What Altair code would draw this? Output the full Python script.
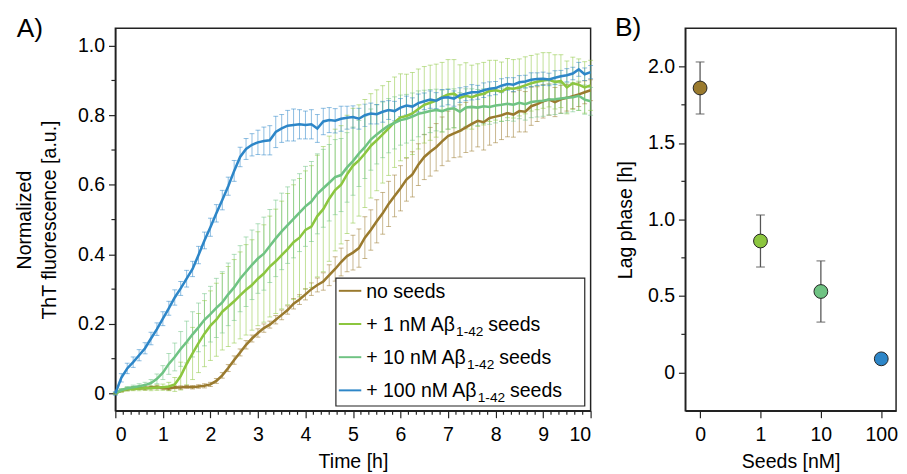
import altair as alt
import pandas as pd

# ---------------- Panel A data ----------------
TIME_H = [round(i * 0.125, 3) for i in range(81)]
SERIES_KEYS = ["s0", "s1", "s2", "s3"]
COLORS = ["#9a7a2e", "#8cc63f", "#6fc383", "#2d86c8"]
LEG_MAIN = ["no seeds", "+ 1 nM Aβ", "+ 10 nM Aβ", "+ 100 nM Aβ"]
LEG_SUB = ["", "1-42", "1-42", "1-42"]
LEG_TAIL = ["", "seeds", "seeds", "seeds"]

NO_SEEDS = [0.000, 0.008, 0.012, 0.015, 0.016, 0.015, 0.017, 0.018, 0.016,
            0.014, 0.018, 0.017, 0.019, 0.018, 0.020, 0.022, 0.026,
            0.036, 0.052, 0.073, 0.096, 0.118, 0.140, 0.158, 0.174,
            0.188, 0.198, 0.212, 0.226, 0.240, 0.258, 0.270, 0.285,
            0.300, 0.312, 0.322, 0.340, 0.358, 0.378, 0.395, 0.405,
            0.418, 0.448, 0.470, 0.495, 0.518, 0.545, 0.568, 0.590,
            0.615, 0.630, 0.658, 0.680, 0.695, 0.708, 0.725, 0.740,
            0.748, 0.755, 0.765, 0.775, 0.784, 0.780, 0.792, 0.796,
            0.800, 0.806, 0.802, 0.812, 0.810, 0.826, 0.832, 0.840,
            0.845, 0.838, 0.846, 0.850, 0.855, 0.860, 0.866, 0.872]
NO_SEEDS_ERR = [0.002, 0.004, 0.004, 0.005, 0.004, 0.005, 0.004, 0.005, 0.004,
                0.005, 0.004, 0.005, 0.004, 0.005, 0.005, 0.006, 0.006,
                0.007, 0.008, 0.010, 0.012, 0.010, 0.012, 0.010, 0.012,
                0.012, 0.010, 0.012, 0.014, 0.012, 0.015, 0.014, 0.016,
                0.018, 0.020, 0.025, 0.030, 0.035, 0.040, 0.045, 0.050,
                0.055, 0.060, 0.058, 0.062, 0.060, 0.065, 0.060, 0.065,
                0.062, 0.065, 0.060, 0.065, 0.070, 0.068, 0.070, 0.072,
                0.070, 0.075, 0.072, 0.078, 0.075, 0.080, 0.078, 0.075,
                0.070, 0.068, 0.065, 0.060, 0.058, 0.055, 0.050, 0.048,
                0.045, 0.042, 0.040, 0.038, 0.036, 0.035, 0.033, 0.030]

SEEDS_1NM = [0.000, 0.008, 0.012, 0.013, 0.014, 0.015, 0.015, 0.017, 0.018,
             0.020, 0.026, 0.050, 0.085, 0.115, 0.145, 0.172, 0.195,
             0.212, 0.235, 0.250, 0.265, 0.282, 0.298, 0.312, 0.330,
             0.345, 0.365, 0.380, 0.398, 0.415, 0.435, 0.448, 0.470,
             0.480, 0.510, 0.530, 0.560, 0.585, 0.600, 0.630, 0.655,
             0.670, 0.690, 0.712, 0.728, 0.745, 0.762, 0.780, 0.794,
             0.798, 0.805, 0.818, 0.830, 0.836, 0.842, 0.852, 0.860,
             0.862, 0.850, 0.856, 0.852, 0.858, 0.862, 0.870, 0.872,
             0.868, 0.878, 0.876, 0.880, 0.886, 0.892, 0.896, 0.900,
             0.902, 0.896, 0.898, 0.880, 0.892, 0.888, 0.880, 0.886]
SEEDS_1NM_ERR = [0.002, 0.004, 0.005, 0.005, 0.006, 0.006, 0.007, 0.008, 0.009,
                 0.012, 0.020, 0.040, 0.060, 0.075, 0.085, 0.095, 0.100,
                 0.105, 0.110, 0.115, 0.120, 0.125, 0.130, 0.130, 0.135,
                 0.140, 0.145, 0.150, 0.155, 0.160, 0.165, 0.170, 0.170,
                 0.175, 0.175, 0.180, 0.180, 0.175, 0.170, 0.170, 0.165,
                 0.160, 0.155, 0.150, 0.145, 0.140, 0.135, 0.130, 0.125,
                 0.120, 0.118, 0.115, 0.110, 0.108, 0.105, 0.100, 0.100,
                 0.098, 0.095, 0.095, 0.092, 0.090, 0.090, 0.088, 0.086,
                 0.085, 0.085, 0.084, 0.082, 0.082, 0.080, 0.080, 0.080,
                 0.078, 0.078, 0.076, 0.076, 0.075, 0.074, 0.074, 0.072]

SEEDS_10NM = [0.000, 0.010, 0.015, 0.018, 0.021, 0.024, 0.030, 0.042, 0.060,
              0.085, 0.105, 0.128, 0.148, 0.170, 0.190, 0.212, 0.228,
              0.246, 0.262, 0.285, 0.305, 0.330, 0.350, 0.370, 0.388,
              0.402, 0.424, 0.446, 0.466, 0.484, 0.502, 0.520, 0.538,
              0.552, 0.574, 0.590, 0.606, 0.622, 0.628, 0.650, 0.668,
              0.690, 0.708, 0.730, 0.745, 0.758, 0.770, 0.778, 0.786,
              0.790, 0.796, 0.804, 0.808, 0.812, 0.815, 0.812, 0.818,
              0.820, 0.810, 0.822, 0.824, 0.822, 0.826, 0.824, 0.828,
              0.830, 0.833, 0.830, 0.836, 0.832, 0.838, 0.840, 0.842,
              0.845, 0.846, 0.848, 0.850, 0.852, 0.856, 0.845, 0.840]
SEEDS_10NM_ERR = [0.002, 0.004, 0.005, 0.006, 0.007, 0.008, 0.010, 0.014, 0.020,
                  0.030, 0.040, 0.050, 0.060, 0.065, 0.070, 0.075, 0.080,
                  0.085, 0.088, 0.090, 0.095, 0.095, 0.100, 0.100, 0.100,
                  0.105, 0.105, 0.110, 0.110, 0.110, 0.112, 0.112, 0.115,
                  0.115, 0.115, 0.112, 0.110, 0.108, 0.105, 0.100, 0.098,
                  0.095, 0.090, 0.088, 0.085, 0.080, 0.078, 0.075, 0.072,
                  0.070, 0.068, 0.066, 0.064, 0.062, 0.060, 0.060, 0.058,
                  0.056, 0.055, 0.054, 0.052, 0.052, 0.050, 0.050, 0.050,
                  0.048, 0.048, 0.047, 0.046, 0.046, 0.045, 0.045, 0.045,
                  0.044, 0.044, 0.043, 0.043, 0.042, 0.042, 0.042, 0.040]

SEEDS_100NM = [0.000, 0.045, 0.072, 0.090, 0.110, 0.130, 0.158, 0.185, 0.215,
               0.245, 0.276, 0.302, 0.330, 0.358, 0.398, 0.440, 0.478,
               0.518, 0.556, 0.596, 0.640, 0.680, 0.703, 0.715, 0.722,
               0.726, 0.728, 0.752, 0.762, 0.770, 0.772, 0.774, 0.772,
               0.774, 0.762, 0.782, 0.786, 0.784, 0.790, 0.793, 0.795,
               0.790, 0.800, 0.805, 0.803, 0.810, 0.815, 0.812, 0.822,
               0.828, 0.825, 0.835, 0.840, 0.845, 0.842, 0.850, 0.852,
               0.848, 0.858, 0.862, 0.866, 0.866, 0.872, 0.876, 0.878,
               0.885, 0.890, 0.888, 0.895, 0.897, 0.902, 0.904, 0.905,
               0.903, 0.908, 0.912, 0.915, 0.920, 0.932, 0.918, 0.924]
SEEDS_100NM_ERR = [0.005, 0.012, 0.015, 0.015, 0.016, 0.016, 0.018, 0.018, 0.020,
                   0.020, 0.022, 0.020, 0.024, 0.022, 0.025, 0.024, 0.026,
                   0.025, 0.028, 0.026, 0.030, 0.028, 0.030, 0.032, 0.035,
                   0.040, 0.042, 0.045, 0.040, 0.044, 0.046, 0.042, 0.040,
                   0.042, 0.040, 0.038, 0.036, 0.035, 0.036, 0.033, 0.032,
                   0.030, 0.032, 0.030, 0.028, 0.030, 0.027, 0.028, 0.026,
                   0.027, 0.025, 0.026, 0.024, 0.025, 0.023, 0.024, 0.022,
                   0.022, 0.021, 0.020, 0.022, 0.020, 0.021, 0.020, 0.019,
                   0.020, 0.018, 0.020, 0.019, 0.018, 0.020, 0.018, 0.019,
                   0.018, 0.020, 0.017, 0.019, 0.018, 0.020, 0.018, 0.019]

# ---------------- Panel B data ----------------
SEED_CONC = ["0", "1", "10", "100"]
LAG_PHASE = [1.86, 0.86, 0.53, 0.09]
LAG_ERR = [0.17, 0.17, 0.20, 0.0]

# tick positions
A_X_MAJOR = list(range(11))
A_X_MINOR = [i / 6 for i in range(61) if i % 6 != 0]
A_Y_MAJOR = [0, 0.2, 0.4, 0.6, 0.8, 1.0]
A_Y_MINOR = [0.1, 0.3, 0.5, 0.7, 0.9]
B_Y_MAJOR = [0, 0.5, 1.0, 1.5, 2.0]
B_Y_MINOR = [0.25, 0.75, 1.25, 1.75]

# ---------------- build tables ----------------
rows = []
for key, vals, errs in zip(SERIES_KEYS,
                           [NO_SEEDS, SEEDS_1NM, SEEDS_10NM, SEEDS_100NM],
                           [NO_SEEDS_ERR, SEEDS_1NM_ERR, SEEDS_10NM_ERR, SEEDS_100NM_ERR]):
    for t, v, e in zip(TIME_H, vals, errs):
        rows.append({"series": key, "t": t, "v": v, "lo": v - e, "hi": v + e})
dfA = pd.DataFrame(rows)

dfB = pd.DataFrame({"seed": SEED_CONC, "lag": LAG_PHASE,
                    "lo": [l - e for l, e in zip(LAG_PHASE, LAG_ERR)],
                    "hi": [l + e for l, e in zip(LAG_PHASE, LAG_ERR)]})

FONT = "Liberation Sans"
FS = 20        # axis / legend font size
SUB_FS = 14    # subscript font size
W = {'+': 0.584, ' ': 0.278, '0': 0.556, '1': 0.556, 'n': 0.556, 'M': 0.833,
     'A': 0.667, 'β': 0.576, '-': 0.333, '4': 0.556, '2': 0.556, 'o': 0.556,
     's': 0.5, 'e': 0.556, 'd': 0.556}


def text_w(s, fs):
    return sum(W.get(c, 0.556) for c in s) * fs


# legend layout (pixels relative to panel A plot origin)
LEG_X0, LEG_X1, LEG_Y0, LEG_Y1 = 226, 481, 256, 387
LINE_X0, LINE_X1, TXT_X = 229, 252, 257
ROW0, ROW_STEP = 269, 34
leg_rows = []
for i, (k, m, s, tl) in enumerate(zip(SERIES_KEYS, LEG_MAIN, LEG_SUB, LEG_TAIL)):
    cy = ROW0 + ROW_STEP * i
    xs = TXT_X + text_w(m, FS)
    leg_rows.append({"series": k, "main": m, "sub": s, "tail": tl, "cy": cy,
                     "yb": cy + 7, "ys": cy + 12, "xm": TXT_X, "xs": xs,
                     "xt": xs + text_w(s, SUB_FS) + 5})
dfLeg = pd.DataFrame(leg_rows)

H = 392
xA = alt.Scale(domain=[0, 10], nice=False, zero=False)
yA = alt.Scale(domain=[-0.05, 1.05], nice=False, zero=False)
colA = alt.Scale(domain=SERIES_KEYS, range=COLORS)
label0 = "datum.value == 0 ? '0' : format(datum.value, '.1f')"

major_x = alt.Axis(values=A_X_MAJOR, format="d", tickSize=7, title="Time [h]",
                   labelPadding=7, titlePadding=8, orient="bottom")
major_y = alt.Axis(values=A_Y_MAJOR, tickSize=7, labelExpr=label0,
                   title=["Normalized", "ThT fluorescence [a.u.]"], titlePadding=18,
                   labelPadding=4, orient="left")

baseA = alt.Chart(dfA)
err_rule = baseA.mark_rule(strokeWidth=1, opacity=0.55).encode(
    x=alt.X("t:Q", scale=xA, axis=major_x),
    y=alt.Y("lo:Q", scale=yA, axis=major_y),
    y2="hi:Q",
    stroke=alt.Stroke("series:N", scale=colA, legend=None),
)
cap_hi = baseA.mark_tick(orient="horizontal", size=5, thickness=1, opacity=0.55).encode(
    x=alt.X("t:Q", scale=xA, axis=None),
    y=alt.Y("hi:Q", scale=yA, axis=None),
    fill=alt.Fill("series:N", scale=colA, legend=None),
)
cap_lo = baseA.mark_tick(orient="horizontal", size=5, thickness=1, opacity=0.55).encode(
    x=alt.X("t:Q", scale=xA, axis=None),
    y=alt.Y("lo:Q", scale=yA, axis=None),
    fill=alt.Fill("series:N", scale=colA, legend=None),
)
lines = baseA.mark_line(strokeWidth=2.6).encode(
    x=alt.X("t:Q", scale=xA, axis=None),
    y=alt.Y("v:Q", scale=yA, axis=None),
    color=alt.Color("series:N", scale=colA, legend=None),
)
# minor ticks (outside the frame), positioned through the panel scales
minA_x = alt.Chart(pd.DataFrame({"mx": A_X_MINOR})).mark_tick(
    orient="vertical", size=4, thickness=1.2, color="#222", opacity=1).encode(
    x=alt.X("mx:Q", scale=xA, axis=None), y=alt.value(H + 2))
minA_y = alt.Chart(pd.DataFrame({"my": A_Y_MINOR})).mark_tick(
    orient="horizontal", size=4, thickness=1.2, color="#222", opacity=1).encode(
    y=alt.Y("my:Q", scale=yA, axis=None), x=alt.value(-2))

# manual legend
leg_box = alt.Chart(pd.DataFrame({"b": [0]})).mark_rect(
    fill="white", stroke="#222", strokeWidth=1.2).encode(
    x=alt.value(LEG_X0), x2=alt.value(LEG_X1), y=alt.value(LEG_Y0), y2=alt.value(LEG_Y1))
baseLeg = alt.Chart(dfLeg)
leg_lines = baseLeg.mark_rule(strokeWidth=2).encode(
    x=alt.value(LINE_X0), x2=alt.value(LINE_X1),
    y=alt.Y("cy:Q", scale=None, axis=None),
    color=alt.Color("series:N", scale=colA, legend=None))
leg_main = baseLeg.mark_text(font=FONT, fontSize=FS, align="left", baseline="alphabetic",
                             color="black").encode(
    x=alt.X("xm:Q", scale=None, axis=None), y=alt.Y("yb:Q", scale=None, axis=None), text="main:N")
leg_sub = baseLeg.mark_text(font=FONT, fontSize=SUB_FS, align="left", baseline="alphabetic",
                            color="black").encode(
    x=alt.X("xs:Q", scale=None, axis=None), y=alt.Y("ys:Q", scale=None, axis=None), text="sub:N")
leg_tail = baseLeg.mark_text(font=FONT, fontSize=FS, align="left", baseline="alphabetic",
                             color="black").encode(
    x=alt.X("xt:Q", scale=None, axis=None), y=alt.Y("yb:Q", scale=None, axis=None), text="tail:N")

labA = alt.Chart(pd.DataFrame({"lab": ["A)"]})).mark_text(
    fontSize=27, font=FONT, align="left", baseline="alphabetic", color="black"
).encode(text="lab:N", x=alt.value(-101), y=alt.value(9))

panelA = alt.layer(err_rule, cap_hi, cap_lo, lines, minA_x, minA_y,
                   leg_box, leg_lines, leg_main, leg_sub, leg_tail, labA).resolve_axis(
    x="independent", y="independent").properties(width=487, height=H)

# ---------------- Panel B ----------------
xB = alt.Scale(domain=SEED_CONC, type="point", padding=0.245)
yB = alt.Scale(domain=[-0.25, 2.25], nice=False, zero=False)
baseB = alt.Chart(dfB)
b_rule = baseB.mark_rule(color="#555", strokeWidth=1.3).encode(
    x=alt.X("seed:O", scale=xB, sort=SEED_CONC,
            axis=alt.Axis(title="Seeds [nM]", labelAngle=0, tickSize=7, labelPadding=7,
                          titlePadding=8, orient="bottom")),
    y=alt.Y("lo:Q", scale=yB, axis=alt.Axis(
        values=B_Y_MAJOR, tickSize=7, title="Lag phase [h]", labelExpr=label0,
        labelPadding=4, titlePadding=12, orient="left")),
    y2="hi:Q",
)
b_cap_hi = baseB.mark_tick(orient="horizontal", size=9, thickness=1.3, color="#555").encode(
    x=alt.X("seed:O", scale=xB, sort=SEED_CONC, axis=None),
    y=alt.Y("hi:Q", scale=yB, axis=None),
)
b_cap_lo = baseB.mark_tick(orient="horizontal", size=9, thickness=1.3, color="#555").encode(
    x=alt.X("seed:O", scale=xB, sort=SEED_CONC, axis=None),
    y=alt.Y("lo:Q", scale=yB, axis=None),
)
b_pts = baseB.mark_circle(size=200, stroke="#222", strokeWidth=1, opacity=1).encode(
    x=alt.X("seed:O", scale=xB, sort=SEED_CONC, axis=None),
    y=alt.Y("lag:Q", scale=yB, axis=None),
    color=alt.Color("seed:O", scale=alt.Scale(domain=SEED_CONC, range=COLORS), legend=None),
)
minB_y = alt.Chart(pd.DataFrame({"my": B_Y_MINOR})).mark_tick(
    orient="horizontal", size=4, thickness=1.2, color="#222", opacity=1).encode(
    y=alt.Y("my:Q", scale=yB, axis=None), x=alt.value(-2))
labB = alt.Chart(pd.DataFrame({"lab": ["B)"]})).mark_text(
    fontSize=27, font=FONT, align="left", baseline="alphabetic", color="black"
).encode(text="lab:N", x=alt.value(-72), y=alt.value(8))

panelB = alt.layer(b_rule, b_cap_hi, b_cap_lo, b_pts, minB_y, labB).resolve_axis(
    x="independent", y="independent").properties(width=216, height=H)

chart = alt.hconcat(panelA, panelB, spacing=18).resolve_scale(
    color="independent", stroke="independent", fill="independent"
).properties(
    padding={"left": 6, "top": 0, "right": 0, "bottom": 0}
).configure_view(
    stroke="#222", strokeWidth=1.5
).configure_axis(
    labelFont=FONT, titleFont=FONT, labelFontSize=FS, titleFontSize=FS,
    labelColor="black", titleColor="black", titleFontWeight="normal",
    domainColor="#222", domainWidth=1.5, tickColor="#222", tickWidth=1.2,
    grid=False, titleLineHeight=26
)

chart.save("out.html", embed_options={"renderer": "svg", "actions": False})
